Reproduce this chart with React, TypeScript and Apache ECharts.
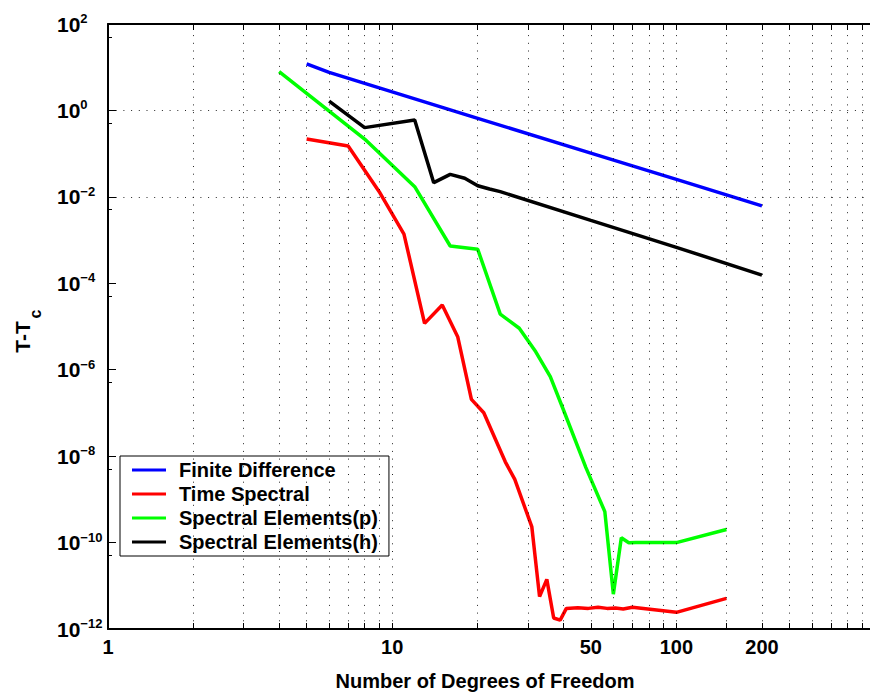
import React, { useEffect, useRef } from 'react';
import * as echarts from 'echarts';

const FONT = "'Liberation Sans', Arial, Helvetica, sans-serif";

const seriesNames = ['Finite Difference', 'Time Spectral', 'Spectral Elements(p)', 'Spectral Elements(h)'];
const seriesColors = ['#0000ff', '#ff0000', '#00ff00', '#000000'];

// Finite Difference
const fdX = [5, 6, 10, 20, 50, 100, 200];
const fdY = [11.9, 7.6, 2.68, 0.657, 0.103, 0.0253, 0.0062];

// Time Spectral
const tsX = [5, 7, 9, 11, 13, 15, 17, 19, 21, 25, 27, 31, 33, 35, 37, 39, 41, 45, 49, 53, 57, 61, 65, 70, 100, 150];
const tsY = [0.218, 0.15, 0.0132, 0.00138, 1.18e-5, 3.14e-5, 5.8e-6, 2.06e-7, 1.01e-7, 7.4e-9, 2.9e-9, 2.3e-10, 5.6e-12, 1.41e-11, 1.8e-12, 1.6e-12, 3.0e-12, 3.1e-12, 3.0e-12, 3.2e-12, 3.0e-12, 3.05e-12, 2.9e-12, 3.2e-12, 2.43e-12, 5.1e-12];

// Spectral Elements(p)
const sepX = [4, 8, 12, 16, 20, 24, 28, 32, 36, 40, 48, 56, 60, 64, 68, 72, 100, 150];
const sepY = [7.9, 0.218, 0.0172, 7.3e-4, 6.1e-4, 1.94e-5, 9.1e-6, 2.6e-6, 6.9e-7, 1.2e-7, 5.5e-9, 5.2e-10, 6.4e-12, 1.29e-10, 9.9e-11, 1.0e-10, 1.0e-10, 2.0e-10];

// Spectral Elements(h)
const sehX = [6, 8, 12, 14, 16, 18, 20, 22, 24, 50, 100, 200];
const sehY = [1.65, 0.40, 0.60, 0.0213, 0.0332, 0.0269, 0.0181, 0.0152, 0.0132, 0.00285, 6.8e-4, 1.55e-4];

const xLabelValues = [1, 10, 50, 100, 200];
const xGridValues = [2, 3, 4, 5, 6, 7, 8, 9, 10, 20, 30, 40, 50, 60, 70, 80, 90, 100, 150, 200, 250, 300, 350, 400, 450];
const xTickValues = [1, ...xGridValues];
const yGridValues = [1, 1e-2, 1e-4, 1e-6, 1e-8, 1e-10];

const X_MIN = 1;
const X_MAX = 480;
const Y_MIN = 1e-12;
const Y_MAX = 1e2;

const zip = (xs: number[], ys: number[]) => xs.map((x, i) => [x, ys[i]]);

export default function App() {
  const ref = useRef<HTMLDivElement>(null);
  useEffect(() => {
    if (!ref.current) return;
    const chart = echarts.init(ref.current, null, { renderer: 'svg' });
    const dataSets = [zip(fdX, fdY), zip(tsX, tsY), zip(sepX, sepY), zip(sehX, sehY)];

    const axisLineStyle = { color: '#000', width: 2 };
    const baseX = {
      type: 'log' as const,
      logBase: 10,
      min: X_MIN,
      max: X_MAX,
      splitLine: { show: false },
      minorTick: { show: false },
      minorSplitLine: { show: false },
    };

    const option: any = {
      animation: false,
      backgroundColor: '#fff',
      grid: { left: 108, right: 0, top: 24, bottom: 69, containLabel: false },
      xAxis: [
        {
          ...baseX,
          position: 'bottom',
          axisLine: { lineStyle: axisLineStyle },
          axisTick: { inside: true, length: 6, customValues: xTickValues, lineStyle: { color: '#000', width: 1 } },
          axisLabel: {
            customValues: xLabelValues,
            fontSize: 20,
            fontWeight: 'bold',
            fontFamily: FONT,
            color: '#000',
            margin: 8,
            formatter: (v: number) => String(Math.round(v)),
          },
        },
        {
          ...baseX,
          position: 'top',
          axisLine: { lineStyle: axisLineStyle },
          axisTick: { inside: true, length: 6, customValues: xTickValues, lineStyle: { color: '#000', width: 1 } },
          axisLabel: { show: false },
        },
      ],
      yAxis: [
        {
          type: 'log',
          logBase: 10,
          min: Y_MIN,
          max: Y_MAX,
          interval: 2,
          axisLine: { show: true, lineStyle: axisLineStyle },
          axisTick: { show: true, inside: true, length: 8, lineStyle: { color: '#000', width: 1 } },
          minorTick: { show: true, splitNumber: 2, length: 4, lineStyle: { color: '#000' } },
          splitLine: { show: false },
          axisLabel: {
            align: 'left',
            margin: 51,
            color: '#000',
            formatter: (v: number) => {
              const e = Math.round(Math.log10(v));
              const es = e < 0 ? '\u2212' + String(-e) : String(e);
              return '{b|10}{e|' + es + '}';
            },
            rich: {
              b: { fontSize: 21, fontWeight: 'bold', fontFamily: FONT, color: '#000', lineHeight: 24, padding: [6, 0, 6, 0] },
              e: { fontSize: 13, fontWeight: 'bold', fontFamily: FONT, color: '#000', lineHeight: 13, verticalAlign: 'top' },
            },
          },
        },
      ],
      legend: {
        data: seriesNames,
        orient: 'vertical',
        left: 120,
        top: 456,
        icon: 'rect',
        itemWidth: 34,
        itemHeight: 3,
        itemGap: 4,
        padding: [4, 11, 4, 12],
        borderColor: '#000',
        borderWidth: 1,
        borderRadius: 0,
        backgroundColor: '#fff',
        selectedMode: false,
        textStyle: { fontSize: 20, fontWeight: 'bold', fontFamily: FONT, color: '#000', lineHeight: 20, padding: [0, 0, 0, 8] },
      },
      graphic: [
        {
          type: 'text',
          x: 485,
          y: 681,
          style: { text: 'Number of Degrees of Freedom', fontSize: 20, fontWeight: 'bold', fontFamily: FONT, fill: '#000', align: 'center', verticalAlign: 'middle' },
        },
        {
          type: 'text',
          x: 22,
          y: 337,
          rotation: Math.PI / 2,
          style: { text: 'T-T', fontSize: 21, fontWeight: 'bold', fontFamily: FONT, fill: '#000', align: 'center', verticalAlign: 'middle' },
        },
        {
          type: 'text',
          x: 35,
          y: 314,
          rotation: Math.PI / 2,
          style: { text: 'c', fontSize: 16, fontWeight: 'bold', fontFamily: FONT, fill: '#000', align: 'center', verticalAlign: 'middle' },
        },
      ],
      series: [
        {
          name: '__grid',
          type: 'line',
          data: [],
          silent: true,
          z: 1,
          markLine: {
            silent: true,
            symbol: ['none', 'none'],
            label: { show: false },
            emphasis: { disabled: true },
            lineStyle: { color: '#000', type: [1, 6.7], width: 1, opacity: 0.85 },
            data: [
              ...xGridValues.map((v) => ({ xAxis: v })),
              ...yGridValues.map((v) => ({ yAxis: v })),
            ],
          },
        },
        ...seriesNames.map((name, i) => ({
          name,
          type: 'line',
          data: dataSets[i],
          showSymbol: false,
          symbol: 'none',
          z: 3,
          color: seriesColors[i],
          lineStyle: { color: seriesColors[i], width: 3.5 },
          emphasis: { disabled: true },
        })),
      ],
    };
    chart.setOption(option);
    return () => chart.dispose();
  }, []);
  return <div ref={ref} style={{ position: 'absolute', left: 0, top: 0, width: 870, height: 698 }} />;
}
